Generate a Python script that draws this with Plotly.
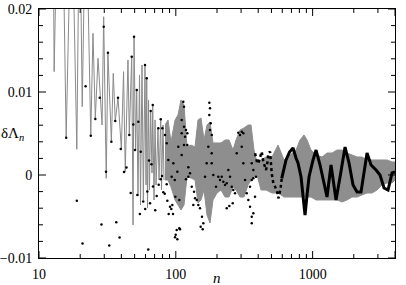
import math
import plotly.graph_objects as go

# ---- gray curve, low-n zigzag (n, dLambda) ----
zig_n = [12.5, 12.9, 14.3, 15.8, 17.3, 18.9, 19.8, 20.7, 22.0, 23.9, 24.8, 25.8, 27.0, 28.9,
         29.7, 31.0, 31.9, 33.8, 34.9, 36.1, 37.8, 40.0, 41.5, 42.7, 44.7, 45.7, 47.6, 48.7,
         49.5, 50.8, 51.8, 52.9, 54.3, 55.2, 56.6, 57.9, 59.5, 60.6, 61.3, 62.1, 63.2, 64.2,
         65.5, 67.0, 67.8, 69.3, 70.5, 71.7, 74.1, 75.4, 77.6, 78.6, 80.6, 82.0]
zig_y = [0.05, 0.01245, 0.05, 0.0045, 0.035, 0.0031, 0.035, 0.00823, 0.035, 0.00473,
         0.01707, 0.00683, 0.01406, 0.00602, 0.01907, -0.0004, 0.01466, 0.00401, 0.01225,
         0.00651, 0.00931, 0.0031, 0.01245, 0.0004, 0.01386, 0.00482, 0.01425, -0.00602,
         0.01666, 0.00301, 0.01024, -0.00253, 0.01205, -0.00361, 0.01325, -0.00301, 0.01325,
         -0.0012, 0.01169, -0.00398, 0.0090, -0.00181, 0.00771, 0.00024, 0.00843, -0.00301,
         0.00663, -0.0012, 0.00566, -0.0006, 0.00675, -0.00181, 0.00602, -0.0006]

# ---- gray curve, dense part: envelope ----
band_n = [83.4, 87.7, 92.2, 98.7, 103.8, 109.1, 114.8, 120.7, 129.1, 138.1, 145.3, 152.8,
          160.7, 169.1, 177.8, 187.0, 200.1, 214.0, 228.9, 244.9, 261.9, 275.5, 294.7, 315.1,
          337.2, 354.6, 372.9, 392.3, 419.6, 456.5, 504.9, 558.6, 617.9, 683.6, 756.2, 809.0,
          865.2, 910.0, 973.4, 1059, 1172, 1274, 1387, 1508, 1641, 1784, 1941, 2112, 2297,
          2498, 2718, 2957, 3216, 3499, 3806, 4000]
band_hi = [0.00602, 0.00663, 0.00398, 0.00663, 0.00723, 0.00904, 0.00843, 0.00337, 0.00361,
           0.00337, 0.00663, 0.00687, 0.00422, 0.00602, 0.00639, 0.00386, 0.00386, 0.00386,
           0.00422, 0.00422, 0.00301, 0.00422, 0.00542, 0.00566, 0.00602, 0.00602, 0.00301,
           0.00145, 0.00181, 0.00217, 0.00217, 0.00361, 0.00181, 0.00241, 0.00301, 0.00422,
           0.00482, 0.00422, 0.00301, 0.00241, 0.00217, 0.00265, 0.00265, 0.00301, 0.00301,
           0.00265, 0.00241, 0.00217, 0.00217, 0.00181, 0.00181, 0.00181, 0.00181, 0.00181,
           0.00157, 0.00157]
band_lo = [-0.0006, -0.0006, -0.00145, -0.00301, -0.00361, -0.00422, -0.00361, -0.00024,
           -0.00036, -0.0006, -0.00337, -0.00301, -0.00181, -0.00482, -0.00578, -0.00301,
           -0.00217, -0.00181, -0.00265, -0.00265, -0.00145, -0.00181, -0.00265, -0.00265,
           -0.0012, -0.0006, -0.00024, 0.0, -0.00181, -0.00181, -0.00217, -0.00217, -0.00265,
           -0.00265, -0.00265, -0.00265, -0.00265, -0.00265, -0.00265, -0.00301, -0.00301,
           -0.00301, -0.00301, -0.00301, -0.00325, -0.00301, -0.00265, -0.00265, -0.00241,
           -0.00217, -0.00217, -0.00181, -0.0012, -0.00096, -0.00096, -0.0006]

# ---- black scattered dots ----
dot_n = [15.8, 18.9, 20.8, 21.9, 23.9, 25.8, 27.8, 28.6, 29.7, 30.9, 31.9, 32.6, 33.8, 36.1,
         36.7, 37.8, 38.8, 39.6, 41.8, 43.6, 45.7, 46.8, 47.6, 48.9, 49.5, 50.3, 51.8, 52.3,
         53.2, 54.6, 55.4, 57.8, 59.5, 59.7, 61.3, 61.9, 62.9, 63.7, 64.8, 65.5, 66.4, 67.8,
         68.1, 70.7, 72.5, 74.5, 75.0, 77.6, 77.6, 79.3, 79.7, 81.0, 83.0, 83.4, 85.8, 85.8,
         86.7, 88.1, 88.7, 90.7, 92.7, 93.3, 94.3, 95.4, 95.9, 98.2, 99.2, 99.8, 98.7, 101.5,
         102.6, 102.6, 104.3, 106.1, 107.3, 106.1, 110.4, 110.4, 110.4, 113.4, 114.8, 114.8,
         114.8, 116.8, 118.7, 121.4, 121.4, 123.4, 123.4, 118.7, 127.0, 130.7, 134.3, 135.9,
         138.2, 142.2, 146.0, 150.3, 152.0, 155.4, 157.2, 158.9, 163.5, 168.2, 172.8, 175.8,
         177.8, 175.8, 179.9, 177.8, 183.0, 183.0, 183.0, 187.9, 196.8, 204.5, 210.4, 216.6,
         222.5, 228.9, 235.6, 235.6, 242.0, 246.1, 249.0, 256.3, 260.6, 263.3, 270.9, 278.8,
         286.3, 294.7, 303.3, 311.5, 303.3, 311.5, 320.6, 329.9, 338.9, 348.7, 358.9, 358.9,
         368.6, 348.7, 358.9, 358.9, 368.6, 368.6, 385.7, 379.3]
dot_y = [0.0045, -0.0031, -0.00825, 0.01069, 0.00473, 0.00675, 0.00931, -0.00596, 0.01787,
         0.0004, 0.01473, -0.00849, 0.00401, 0.00651, -0.0057, 0.00931, -0.00753, 0.00313,
         0.00036, 0.0009, 0.00482, -0.00217, 0.01425, 0.00608, 0.01666, 0.00301, 0.01024,
         -0.00241, 0.00642, -0.0047, 0.00281, -0.00319, 0.01325, -0.0041, 0.01165, -0.00199,
         -0.00898, 0.00175, -0.00341, 0.00771, 0.0013, 0.00843, -0.00139, -0.00424, -0.00253,
         0.00563, -0.00117, 0.00672, -0.00052, -0.00012, 0.00563, -0.00208, -0.00225, 0.00482,
         -0.00112, 0.00382, -0.0031, 0.00181, -0.0047, -0.00382, -0.0041, -0.0002, -0.00361,
         -0.0047, 0.00141, -0.0006, -0.00261, -0.00719, -0.00751, -0.00663, -0.00775, 0.0004,
         0.00341, -0.00642, -0.00654, -0.00301, 0.00241, 0.00502, 0.00663, 0.00883, 0.00823,
         0.00582, 0.00361, 0.00461, 0.00542, 0.00502, 0.00361, 0.00093, -0.0002, -0.00052,
         0.0002, -0.00141, -0.00361, -0.00201, -0.00281, -0.00301, -0.00361, -0.00401,
         -0.00623, -0.00502, -0.00654, -0.00582, -0.0002, 0.00141, 0.00341, 0.00871, 0.00804,
         0.00723, 0.00623, 0.00542, 0.00482, 0.00261, 0.00141, 0.0, -0.00141, -0.0002,
         -0.0006, -0.0002, -0.00081, -0.0012, -0.001, -0.00401, 0.0006, -0.00373, -0.0002,
         -0.00141, -0.00341, -0.00181, -0.0022, 0.00261, 0.0051, 0.00482, 0.00522, 0.00502,
         0.00341, 0.00141, -0.0006, -0.0022, -0.00301, -0.00382, -0.00502, -0.00582, -0.00461,
         -0.00141, -0.0006, 0.00141, 0.0006, -0.0004, -0.0002, -0.00261]

# ---- densely dotted black stretch ----
dense_n = [379.3, 394.3, 401.0, 407.8, 412.6, 424.6, 436.1, 448.8, 456.4, 466.5, 474.5, 488.3,
           494.1, 502.4, 516.2, 531.1, 546.6, 561.5, 571.1, 584.7, 594.6]
dense_y = [0.00261, 0.00141, 0.00141, 0.00181, 0.0022, 0.00281, 0.0016, 0.001, 0.0006,
           0.00141, 0.00261, 0.00281, 0.00181, 0.0002, -0.001, -0.00141, -0.00181, -0.00281,
           -0.00241, -0.00141, -0.0004]

# ---- black thick curve ----
line_n = [594.6, 639, 678, 719, 756, 782, 823, 851, 880, 910, 941, 1007, 1059, 1133, 1211,
          1274, 1363, 1483, 1586, 1726, 1845, 1974, 2112, 2258, 2498, 2673, 2907, 3110, 3326,
          3557, 3806, 4000]
line_y = [-0.0004, 0.00181, 0.00277, 0.00325, 0.00205, 0.00145, -0.00024, -0.00241, -0.00482,
          -0.00241, -0.00024, 0.00181, 0.00301, 0.0012, -0.0012, -0.00265, 0.0012, -0.00301,
          -0.00024, 0.00337, 0.00145, -0.0012, -0.00205, -0.00205, 0.00265, 0.0012, 0.0006,
          0.0, -0.00157, -0.00181, 0.00024, 0.00036]

x_ticks = [10, 100, 1000, 4000]
x_minor = [20, 30, 40, 50, 60, 70, 80, 90, 200, 300, 400, 500, 600, 700, 800, 900, 2000, 3000]
y_ticks = [-0.01, 0, 0.01, 0.02]
y_ticktext = ["\u22120.01", "0", "0.01", "0.02"]
y_minor = [-0.008, -0.006, -0.004, -0.002, 0.002, 0.004, 0.006, 0.008,
           0.012, 0.014, 0.016, 0.018]

GRAY = "#8e8e8e"
FONT = "Liberation Serif"
X_RANGE = [1, math.log10(4000)]
Y_RANGE = [-0.01, 0.02]
W, H = 406, 285
M = dict(l=39, r=11, t=9, b=27)
PW = W - M["l"] - M["r"]
PH = H - M["t"] - M["b"]
MAJOR_LEN, MINOR_LEN = 7, 4

fig = go.Figure()
fig.add_trace(go.Scatter(x=zig_n, y=zig_y, mode="lines",
                         line=dict(color="#8a8a8a", width=1), showlegend=False))
fig.add_trace(go.Scatter(x=band_n, y=band_lo, mode="lines",
                         line=dict(color=GRAY, width=1), showlegend=False))
fig.add_trace(go.Scatter(x=band_n, y=band_hi, mode="lines", fill="tonexty",
                         fillcolor=GRAY, line=dict(color=GRAY, width=1), showlegend=False))
fig.add_trace(go.Scatter(x=dot_n, y=dot_y, mode="markers",
                         marker=dict(color="black", size=2.5, line=dict(width=0)),
                         showlegend=False))
fig.add_trace(go.Scatter(x=dense_n, y=dense_y, mode="lines",
                         line=dict(color="black", width=2.5, dash="dot"), showlegend=False))
fig.add_trace(go.Scatter(x=line_n, y=line_y, mode="lines",
                         line=dict(color="black", width=3), showlegend=False))

# inward tick marks on all four sides, built from the tick arrays and the axis scales
dy = (Y_RANGE[1] - Y_RANGE[0]) / PH          # data units per pixel (y)
dlx = (X_RANGE[1] - X_RANGE[0]) / PW         # log10 units per pixel (x)
tx, ty = [], []
for vals, ln in ((x_ticks, MAJOR_LEN), (x_minor, MINOR_LEN)):
    for v in vals:
        tx += [v, v, None, v, v, None]
        ty += [Y_RANGE[0], Y_RANGE[0] + ln * dy, None, Y_RANGE[1], Y_RANGE[1] - ln * dy, None]
for vals, ln in ((y_ticks, MAJOR_LEN), (y_minor, MINOR_LEN)):
    for v in vals:
        tx += [10 ** X_RANGE[0], 10 ** (X_RANGE[0] + ln * dlx), None,
               10 ** X_RANGE[1], 10 ** (X_RANGE[1] - ln * dlx), None]
        ty += [v, v, None, v, v, None]
fig.add_trace(go.Scatter(x=tx, y=ty, mode="lines", line=dict(color="black", width=1),
                         hoverinfo="skip", showlegend=False, connectgaps=False))

axis_common = dict(showgrid=False, zeroline=False, showline=True, linecolor="black",
                   linewidth=1, mirror=True, ticks="", automargin=False,
                   tickfont=dict(family=FONT, size=14, color="black"))
fig.update_xaxes(type="log", range=X_RANGE, tickmode="array", tickvals=x_ticks,
                 ticktext=[str(v) for v in x_ticks], ticklabelstandoff=3, **axis_common)
fig.update_yaxes(range=Y_RANGE, tickmode="array", tickvals=y_ticks, ticktext=y_ticktext,
                 ticklabelstandoff=3, **axis_common)

fig.add_annotation(text="\u03b4\u039b<sub><i>n</i></sub>", xref="paper", yref="paper",
                   x=-0.112, y=0.5, xanchor="left", yanchor="middle", showarrow=False,
                   font=dict(family=FONT, size=15, color="black"))
fig.add_annotation(text="<i>n</i>", xref="paper", yref="paper", x=0.5, y=-0.08,
                   xanchor="center", yanchor="middle", showarrow=False,
                   font=dict(family=FONT, size=15, color="black"))

fig.update_layout(width=W, height=H, margin=dict(**M, autoexpand=False),
                  paper_bgcolor="white", plot_bgcolor="white")

fig.write_html("out.html")
